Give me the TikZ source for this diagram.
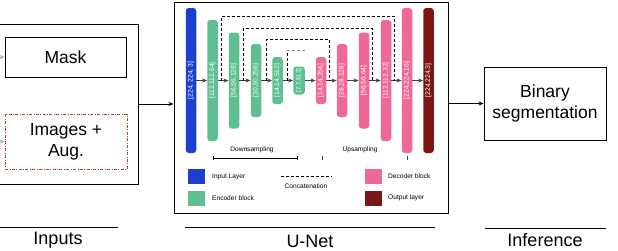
\documentclass[tikz,border=0pt]{standalone}
\usepackage{fontspec}
\setmainfont{Liberation Sans}
\usetikzlibrary{arrows.meta}
\definecolor{inblue}{HTML}{1B40D0}
\definecolor{encgreen}{HTML}{5EBF92}
\definecolor{decpink}{HTML}{EE6996}
\definecolor{outred}{HTML}{7B1612}
\definecolor{augred}{HTML}{C0392B}
\begin{document}
\begin{tikzpicture}[x=1pt,y=-1pt,
  blk/.style={draw=none, rounded corners=3pt, minimum width=10.5pt, inner sep=0pt,
    text=white, font=\fontsize{6.7}{7}\selectfont},
  arr/.style={-{Stealth[length=5pt,width=4pt]}, line width=0.6pt, black!75},
  bigarr/.style={-{Stealth[length=5pt,width=4pt]}, line width=0.8pt, black},
  skip/.style={dash pattern=on 3pt off 2pt, line width=0.8pt, black},
  frame/.style={draw, line width=0.9pt, inner sep=0pt},
  big/.style={font=\fontsize{17.5}{21}\selectfont, align=center},
  small/.style={font=\fontsize{6.6}{8}\selectfont, inner sep=0pt},
  leg/.style={minimum width=17pt, minimum height=15pt, inner sep=0pt, draw=none},
  caption/.style={font=\fontsize{18}{20}\selectfont, inner sep=0pt}
]
\useasboundingbox (0,0) rectangle (618,250);
\clip (0,0) rectangle (618,250);

% ---------- Inputs ----------
\node[frame, minimum width=145pt, minimum height=160pt] (inputs) at (65.5,104) {};
\node[frame, line width=0.8pt, minimum width=121pt, minimum height=40pt, big] (mask) at (65.5,57) {Mask};
\node[draw=augred, line width=0.7pt, dash pattern=on 3pt off 1.5pt on 0.8pt off 1.5pt,
      minimum width=122pt, minimum height=55pt, inner sep=0pt, big] (img) at (66,141.5) {Images +\\Aug.};
\coordinate (gm) at (-6,57);
\coordinate (gi) at (-6,142);
\draw[-{Stealth[length=5pt,width=4pt]}, black!30, line width=0.8pt] (gm) -- (mask.west);
\draw[-{Stealth[length=5pt,width=4pt]}, black!30, line width=0.8pt] (gi) -- (img.west);

% ---------- U-Net frame ----------
\node[frame, line width=1pt, minimum width=274pt, minimum height=211pt] (unet) at (311,107.5) {};
\draw[bigarr] (inputs.east) -- (inputs.east -| unet.west);

% ---------- Blocks ----------
\node[blk, fill=inblue,   minimum height=145pt] (b0)  at (191,80.5)   {\rotatebox{90}{[224, 224, 3]}};
\node[blk, fill=encgreen, minimum height=121pt] (b1)  at (212.5,80.5) {\rotatebox{90}{[112,112,64]}};
\node[blk, fill=encgreen, minimum height=96pt]  (b2)  at (234,80.5)   {\rotatebox{90}{[56,56,128]}};
\node[blk, fill=encgreen, minimum height=73pt]  (b3)  at (256,80.5)   {\rotatebox{90}{[30,30,256]}};
\node[blk, fill=encgreen, minimum height=47pt]  (b4)  at (277.5,80.5) {\rotatebox{90}{[14,14,512]}};
\node[blk, fill=encgreen, minimum height=28pt, minimum width=11.5pt, font=\fontsize{6.2}{7}\selectfont]  (b5)  at (299,80.5)   {\rotatebox{90}{[7,7,512]}};
\node[blk, fill=decpink,  minimum height=47pt]  (b6)  at (321,80.5)   {\rotatebox{90}{[14,14,256]}};
\node[blk, fill=decpink,  minimum height=73pt]  (b7)  at (342,80.5)   {\rotatebox{90}{[28,28,128]}};
\node[blk, fill=decpink,  minimum height=96pt]  (b8)  at (364,80.5)   {\rotatebox{90}{[56,56,64]}};
\node[blk, fill=decpink,  minimum height=121pt] (b9)  at (386,80.5)   {\rotatebox{90}{[112,112,32]}};
\node[blk, fill=decpink,  minimum height=145pt] (b10) at (407,80.5)   {\rotatebox{90}{[224,224,16]}};
\node[blk, fill=outred,   minimum height=145pt] (b11) at (428.5,80.5) {\rotatebox{90}{[224,224,3]}};

\foreach \a/\b in {b0/b1,b1/b2,b2/b3,b3/b4,b4/b5,b5/b6,b6/b7,b7/b8,b8/b9,b9/b10,b10/b11}
  \draw[arr] (\a.east) -- (\b.west);

% ---------- Skip connections ----------
\coordinate (s1) at (221,80.5);  \coordinate (t1) at (394,80.5);
\coordinate (s2) at (243,80.5);  \coordinate (t2) at (372,80.5);
\coordinate (s3) at (266,80.5);  \coordinate (t3) at (329,80.5);
\coordinate (s4) at (287,80.5);  \coordinate (t4) at (306,50);
\draw[skip] (s1) -- (221,16) -- (394,16) -- (t1);
\draw[skip] (s2) -- (243,28) -- (372,28) -- (t2);
\draw[skip] (s3) -- (266,39) -- (329,39) -- (t3);
\draw[skip] (s4) -- (287,50);
\draw[skip, black!45] (287,50) -- (t4);

% ---------- Sampling annotations ----------
\node[small] (down) at (252,150) {Downsampling};
\node[small] (up) at (360,150) {Upsampling};
\coordinate (d1) at (213,158); \coordinate (d2) at (298,158);
\draw[{Bar[width=4pt]}-{Bar[width=4pt]}, line width=0.6pt] (d1) -- (d2);
\coordinate (u1) at (322,158); \coordinate (u2) at (407,158);
\draw[line width=0.5pt, black!70] (322,156) -- (322,160);
\draw[line width=0.5pt, black!70] (407,156) -- (407,160);

% ---------- Legend ----------
\node[leg, fill=inblue]   (l1) at (196.5,176.5) {};
\node[leg, fill=encgreen] (l2) at (196.5,198) {};
\node[leg, fill=decpink]  (l3) at (373,176.5) {};
\node[leg, fill=outred]   (l4) at (373,198) {};
\node[small, anchor=west] (lt1) at (212,176.5) {Input Layer};
\node[small, anchor=west] (lt2) at (212,198) {Encoder block};
\node[small, anchor=west] (lt3) at (388,176.5) {Decoder block};
\node[small, anchor=west] (lt4) at (388,198) {Output layer};
\coordinate (c1) at (281,176); \coordinate (c2) at (332,176);
\draw[dash pattern=on 3pt off 2pt, line width=0.6pt] (c1) -- (c2);
\node[small] (conc) at (306,186) {Concatenation};

% ---------- Inference ----------
\node[frame, line width=0.8pt, minimum width=122pt, minimum height=73pt, big] (bin) at (545,103.5) {Binary\\segmentation};
\draw[bigarr] (bin.west -| unet.east) -- (bin.west);

% ---------- Bottom captions ----------
\draw[line width=0.8pt] (0,227) -- (118,227);
\draw[line width=0.8pt] (185,227) -- (435,227);
\draw[line width=0.8pt] (485,228) -- (606,228);
\node[caption] (capin) at (58,240) {Inputs};
\node[caption] (capun) at (310,241) {U-Net};
\node[caption] (capinf) at (545,240) {Inference};
\end{tikzpicture}
\end{document}
